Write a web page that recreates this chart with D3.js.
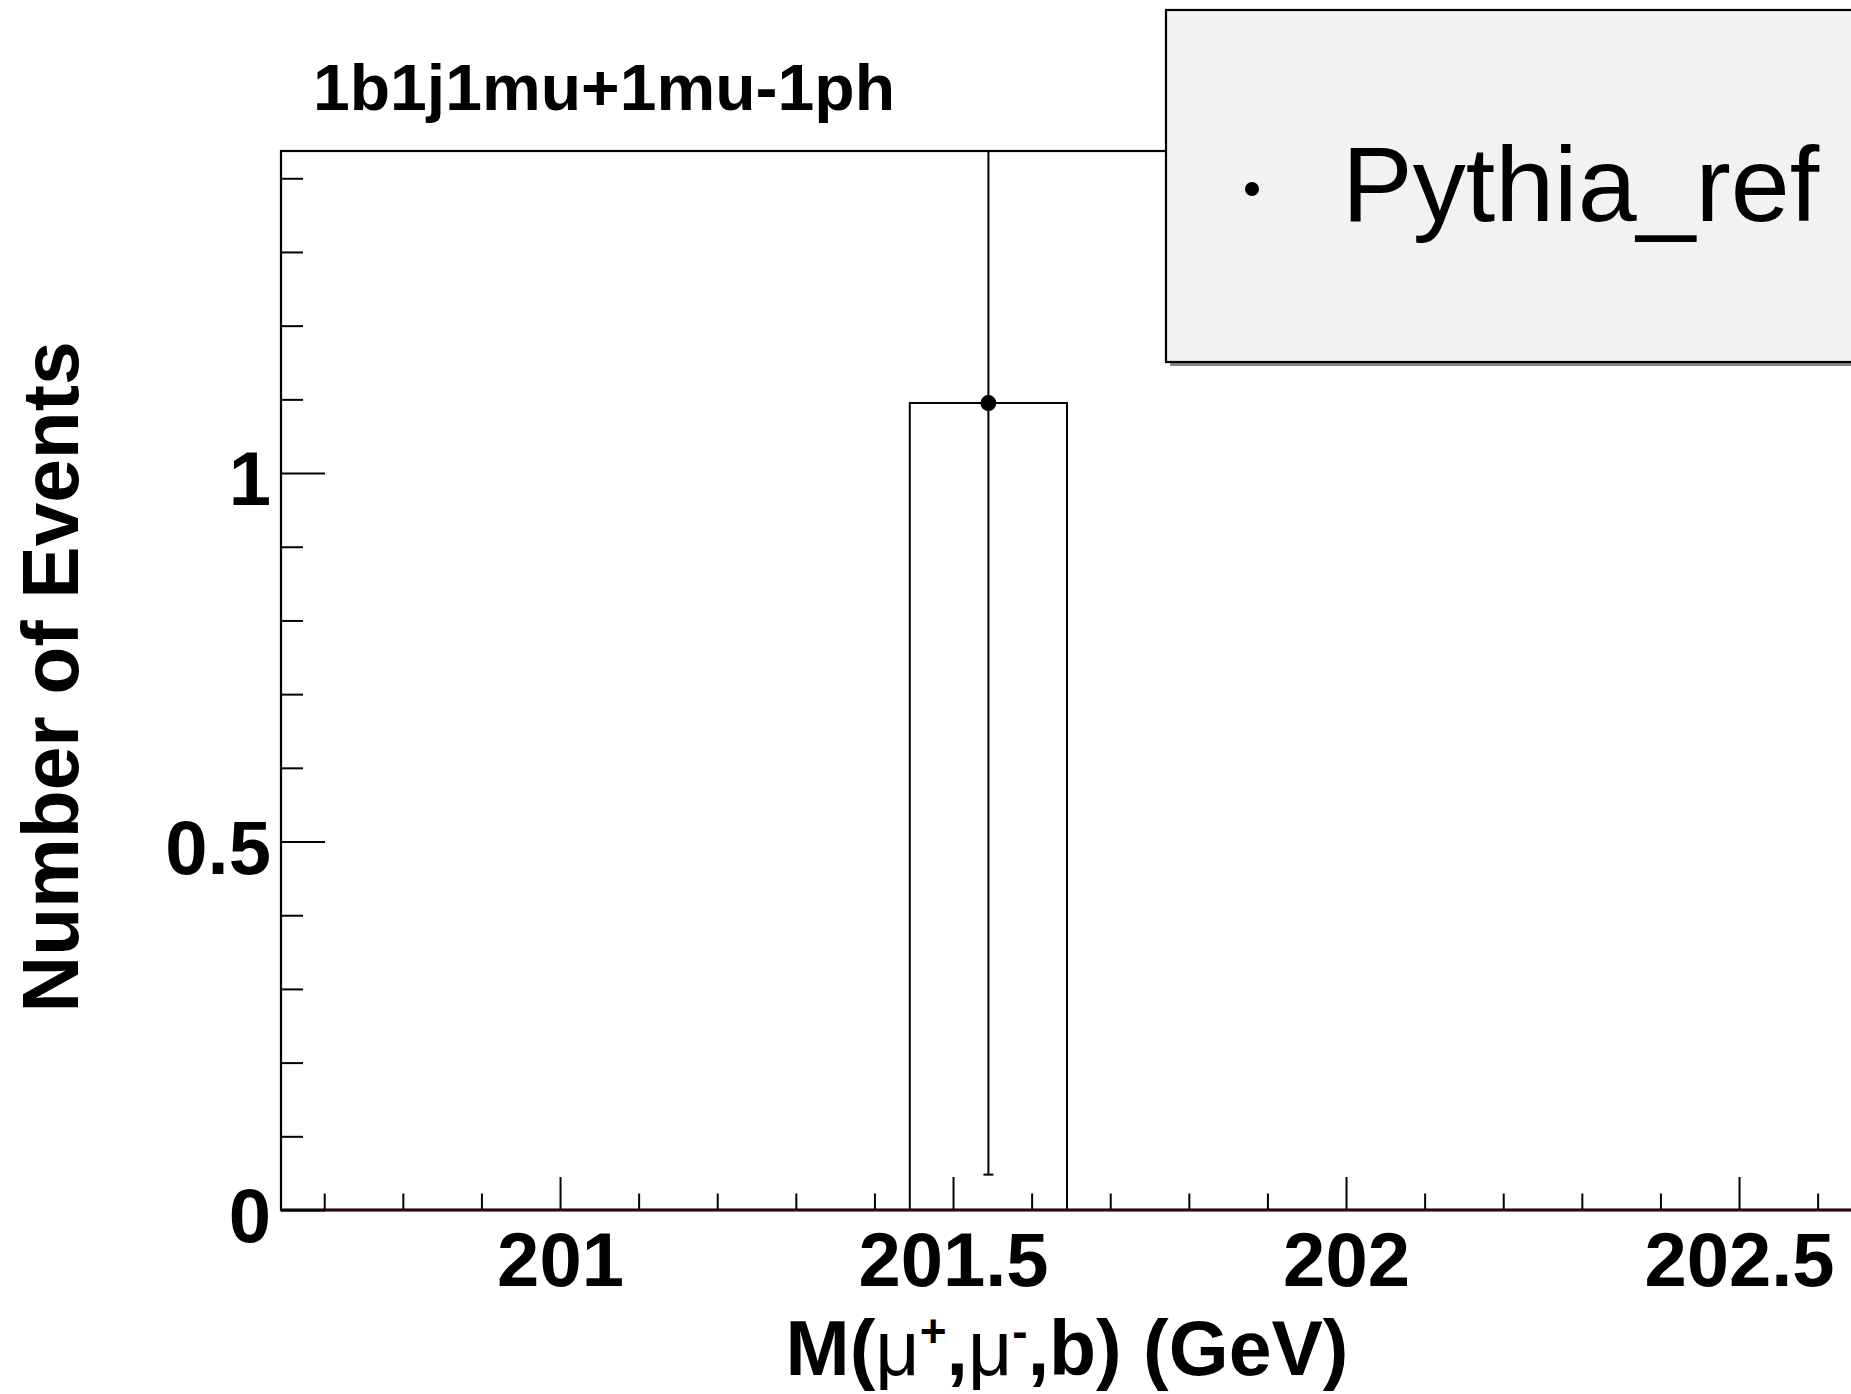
<!DOCTYPE html>
<html><head><meta charset="utf-8">
<script src="https://cdn.jsdelivr.net/npm/d3@7"></script>
<style>body{margin:0;background:#fff}svg{display:block}text{font-family:"Liberation Sans",Arial,sans-serif}</style>
</head><body>
<script>
// ---- data ----
const title = "1b1j1mu+1mu-1ph";
const seriesName = "Pythia_ref";
const binLow = 200.645, binWidth = 0.2;
const binCounts = [0, 0, 0, 0, 1.095, 0, 0, 0, 0, 0];
const binErrors = [0, 0, 0, 0, 1.047, 0, 0, 0, 0, 0];
const xMajorTicks = [201, 201.5, 202, 202.5];
const xMinorTicks = [200.7, 200.8, 200.9, 201.1, 201.2, 201.3, 201.4, 201.6, 201.7, 201.8, 201.9, 202.1, 202.2, 202.3, 202.4, 202.6];
const yMajorTicks = [0, 0.5, 1];
const yMinorTicks = [0.1, 0.2, 0.3, 0.4, 0.6, 0.7, 0.8, 0.9, 1.1, 1.2, 1.3, 1.4];
const yMax = 1.437;

const W = 1851, H = 1394;
const L = 281, R = 1853, T = 151, B = 1210;
const svg = d3.select("body").append("svg").attr("width", W).attr("height", H);

const nb = binCounts.length;
const x = d3.scaleLinear().domain([binLow, binLow + nb * binWidth]).range([L, R]);
const y = d3.scaleLinear().domain([0, yMax]).range([B, T]);

svg.append("clipPath").attr("id", "clip").append("rect").attr("x", L).attr("y", T).attr("width", R - L).attr("height", B - T);

// histogram step outline
const pts = [[x(binLow), y(0)]];
binCounts.forEach((c, i) => {
  pts.push([x(binLow + i * binWidth), y(c)]);
  pts.push([x(binLow + (i + 1) * binWidth), y(c)]);
});
pts.push([x(binLow + nb * binWidth), y(0)]);
svg.append("path").attr("d", d3.line()(pts)).attr("fill", "none").attr("stroke", "#000").attr("stroke-width", 2).attr("clip-path", "url(#clip)");

// error bars and markers
const g = svg.append("g");
binCounts.forEach((c, i) => {
  if (c <= 0) return;
  const cx = x(binLow + (i + 0.5) * binWidth);
  const lo = Math.max(0, c - binErrors[i]), hi = Math.min(yMax, c + binErrors[i]);
  g.append("line").attr("x1", cx).attr("x2", cx).attr("y1", y(lo)).attr("y2", y(hi)).attr("stroke", "#000").attr("stroke-width", 2);
  g.append("line").attr("x1", cx - 5).attr("x2", cx + 5).attr("y1", y(lo)).attr("y2", y(lo)).attr("stroke", "#000").attr("stroke-width", 2);
  g.append("line").attr("x1", cx - 5).attr("x2", cx + 5).attr("y1", y(hi)).attr("y2", y(hi)).attr("stroke", "#000").attr("stroke-width", 2);
  g.append("circle").attr("cx", cx).attr("cy", y(c)).attr("r", 8).attr("fill", "#000");
});

// frame
svg.append("rect").attr("x", L).attr("y", T).attr("width", R - L).attr("height", B - T).attr("fill", "none").attr("stroke", "#000").attr("stroke-width", 2.2);
svg.append("line").attr("x1", L).attr("x2", R).attr("y1", B).attr("y2", B).attr("stroke", "#2a0505").attr("stroke-width", 2.8);

// axes
const fontTick = 76;
const xMaj = d3.axisBottom(x).tickValues(xMajorTicks).tickSize(-33).tickPadding(22).tickFormat(d3.format(""));
const xMin = d3.axisBottom(x).tickValues(xMinorTicks).tickSize(-16.5).tickFormat("");
const yMaj = d3.axisLeft(y).tickValues(yMajorTicks).tickSize(-44).tickPadding(10).tickFormat(d3.format(""));
const yMin = d3.axisLeft(y).tickValues(yMinorTicks).tickSize(-22).tickFormat("");

function styleAxis(sel) {
  sel.select(".domain").remove();
  sel.selectAll(".tick line").attr("stroke", "#000").attr("stroke-width", 2);
  sel.selectAll("text").attr("font-family", "'Liberation Sans',Arial,sans-serif").attr("font-weight", "bold").attr("font-size", fontTick).attr("fill", "#000");
}
svg.append("g").attr("transform", `translate(0,${B})`).call(xMin).call(styleAxis);
svg.append("g").attr("transform", `translate(0,${B})`).call(xMaj).call(styleAxis);
svg.append("g").attr("transform", `translate(${L},0)`).call(yMin).call(styleAxis);
const ya = svg.append("g").attr("transform", `translate(${L},0)`).call(yMaj).call(styleAxis);
ya.selectAll("text").attr("dy", "0.42em");

// title
svg.append("text").attr("x", 313).attr("y", 110).attr("font-size", 64).attr("font-weight", "bold")
  .attr("textLength", 582).attr("lengthAdjust", "spacingAndGlyphs").text(title);

// y axis title
svg.append("text").attr("transform", "translate(78,677) rotate(-90)").attr("text-anchor", "middle")
  .attr("font-size", 80).attr("font-weight", "bold").attr("textLength", 671).attr("lengthAdjust", "spacingAndGlyphs").text("Number of Events");

// x axis title
const xt = svg.append("text").attr("x", (L + R) / 2).attr("y", 1375).attr("text-anchor", "middle")
  .attr("font-size", 77).attr("font-weight", "bold");
xt.append("tspan").text("M(");
xt.append("tspan").attr("font-weight", "normal").text("\u03bc");
xt.append("tspan").attr("font-size", 46).attr("dy", -28).text("+");
xt.append("tspan").attr("dy", 28).text(",");
xt.append("tspan").attr("font-weight", "normal").text("\u03bc");
xt.append("tspan").attr("font-size", 46).attr("dy", -28).text("-");
xt.append("tspan").attr("dy", 28).text(",b) (GeV)");

// legend
const lg = svg.append("g");
lg.append("rect").attr("x", 1170).attr("y", 14).attr("width", 720).attr("height", 352).attr("fill", "#888");
lg.append("rect").attr("x", 1166).attr("y", 10).attr("width", 720).attr("height", 352).attr("fill", "#f2f2f2").attr("stroke", "#000").attr("stroke-width", 2.2);
lg.append("circle").attr("cx", 1252).attr("cy", 189).attr("r", 7).attr("fill", "#000");
lg.append("text").attr("x", 1342).attr("y", 221).attr("font-size", 106).attr("fill", "#000").text(seriesName);
</script>
</body></html>
